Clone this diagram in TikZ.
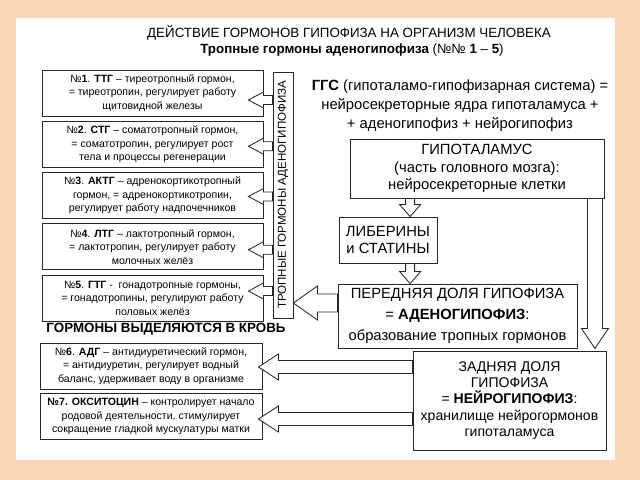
\documentclass[tikz,border=0pt]{standalone}
\usepackage{fontspec}
\setmainfont{Liberation Sans}
\usepackage{graphicx}
\usetikzlibrary{calc,positioning}
\definecolor{peach}{RGB}{250,213,182}

% hollow block arrow: tail, tip, shaft half width, head half width, head length
\newcommand{\blockarrow}[5]{%
  \coordinate (ba-base) at ($(#2)!#5!(#1)$);
  \draw[hollow] ($(#1)!#3!90:(#2)$) -- ($(ba-base)!#3!90:(#2)$) -- ($(ba-base)!#4!90:(#2)$) -- (#2)
    -- ($(ba-base)!#4!-90:(#2)$) -- ($(ba-base)!#3!-90:(#2)$) -- ($(#1)!#3!-90:(#2)$) -- cycle;
}

\begin{document}
\begin{tikzpicture}[
    x=0.025cm, y=-0.025cm,
    hbox/.style={rectangle, draw=black!85, line width=0.6pt, fill=white, align=center, inner sep=0pt, minimum width=5.525cm, minimum height=1.15cm, font=\fontsize{7.5}{9.6}\selectfont},
    organ/.style={rectangle, draw=black!85, line width=0.6pt, fill=white, align=center, inner sep=0pt, font=\fontsize{10.5}{12.5}\selectfont},
    hollow/.style={draw=black!85, line width=0.6pt, fill=white, line join=miter}
  ]
  \useasboundingbox (0,0) rectangle (640,480);
  \fill[peach] (0,0) rectangle (640,480);
  \fill[white] (16,18) rectangle (615,460);

  \node[font=\fontsize{9.5}{11}\selectfont] (title) at (349,33) {ДЕЙСТВИЕ ГОРМОНОВ ГИПОФИЗА НА ОРГАНИЗМ ЧЕЛОВЕКА};
  \node[font=\fontsize{9.5}{11}\selectfont] (subtitle) at (352,50) {\textbf{Тропные гормоны аденогипофиза} (№№ \textbf{1} – \textbf{5})};

  % tropic hormones
  \node[hbox] (b1) at (152.5,93) {№\textbf{1}. \textbf{ТТГ} – тиреотропный гормон,\\= тиреотропин, регулирует работу\\щитовидной железы};
  \node[hbox, below=0.11cm of b1] (b2) {№\textbf{2}. \textbf{СТГ} – соматотропный гормон,\\= соматотропин, регулирует рост\\тела и процессы регенерации};
  \node[hbox, below=0.11cm of b2] (b3) {№\textbf{3}. \textbf{АКТГ} – адренокортикотропный\\гормон, = адренокортикотропин,\\регулирует работу надпочечников};
  \node[hbox, below=0.11cm of b3] (b4) {№\textbf{4}. \textbf{ЛТГ} – лактотропный гормон,\\= лактотропин, регулирует работу\\молочных желёз};
  \node[hbox, below=0.11cm of b4] (b5) {№\textbf{5}. \textbf{ГТГ} -\ \ гонадотропные гормоны,\\= гонадотропины, регулируют работу\\половых желёз};
  \node[draw=black!85, line width=0.6pt, fill=white, inner sep=0pt, minimum width=0.5cm, minimum height=6.15cm, font=\fontsize{8.2}{9}\selectfont] (bar) at (283,195) {\rotatebox{90}{ТРОПНЫЕ ГОРМОНЫ АДЕНОГИПОФИЗА}};

  \node[font=\bfseries\fontsize{9.5}{11}\selectfont] (blood) at (166,329) {ГОРМОНЫ ВЫДЕЛЯЮТСЯ В КРОВЬ};
  \node[hbox, minimum width=5.55cm] (b6) at (151,366) {№\textbf{6}. \textbf{АДГ} – антидиуретический гормон,\\= антидиуретин, регулирует водный\\баланс, удерживает воду в организме};
  \node[hbox, minimum width=5.55cm, below=0.1cm of b6] (b7) {\textbf{№7. ОКСИТОЦИН} – контролирует начало\\родовой деятельности, стимулирует\\сокращение гладкой мускулатуры матки};

  % hypothalamo-pituitary system
  \node[align=center, font=\fontsize{10.5}{13.5}\selectfont] (ggs) at (460,106) {\textbf{ГГС} (гипоталамо-гипофизарная система) =\\нейросекреторные ядра гипоталамуса +\\+ аденогипофиз + нейрогипофиз};
  \node[organ, minimum width=6.35cm, minimum height=1.475cm] (hyp) at (477,168.5) {ГИПОТАЛАМУС\\(часть головного мозга):\\нейросекреторные клетки};
  \node[organ, minimum width=2.45cm, minimum height=1.15cm] (lib) at (388,240) {ЛИБЕРИНЫ\\и СТАТИНЫ};
  \node[organ, minimum width=5.975cm, minimum height=1.6cm, font=\fontsize{10.5}{15}\selectfont] (adeno) at (457.5,316) {ПЕРЕДНЯЯ ДОЛЯ ГИПОФИЗА\\= \textbf{АДЕНОГИПОФИЗ}:\\образование тропных гормонов};
  \node[organ, minimum width=4.825cm, minimum height=2.475cm, font=\fontsize{10}{11.5}\selectfont] (neuro) at (509.5,400.5) {ЗАДНЯЯ ДОЛЯ\\ГИПОФИЗА\\= \textbf{НЕЙРОГИПОФИЗ}:\\хранилище нейрогормонов\\гипоталамуса};

  % block arrows
  \coordinate (h2l-tip) at ($(lib.north west)!0.724!(lib.north east)$);
  \coordinate (h2l-tail) at (h2l-tip |- hyp.south);
  \blockarrow{h2l-tail}{h2l-tip}{0.1125cm}{0.2625cm}{0.3cm}
  \coordinate (l2a-tail) at ($(lib.south west)!0.724!(lib.south east)$);
  \coordinate (l2a-tip) at (l2a-tail |- adeno.north);
  \blockarrow{l2a-tail}{l2a-tip}{0.1125cm}{0.2625cm}{0.3cm}
  \coordinate (h2n-tail) at ($(hyp.south east)+(-9.5,0)$);
  \coordinate (h2n-tip) at (h2n-tail |- adeno.south);
  \blockarrow{h2n-tail}{h2n-tip}{0.1875cm}{0.3375cm}{0.5cm}
  \coordinate (a2b-tail) at ($(adeno.west)+(0,-13)$);
  \coordinate (a2b-tip) at (bar.east |- a2b-tail);
  \blockarrow{a2b-tail}{a2b-tip}{0.225cm}{0.425cm}{0.6cm}
  \foreach \b/\dy in {b1/7, b2/2, b3/1, b4/3, b5/-7} {
    \coordinate (\b-tail) at ($(bar.west |- \b.east)+(0,\dy)$);
    \coordinate (\b-tip) at ($(\b.east)+(-15,\dy)$);
    \blockarrow{\b-tail}{\b-tip}{0.1125cm}{0.2cm}{0.375cm}
  }
  \coordinate (n6-tail) at ($(neuro.west)+(0,-33.5)$);
  \coordinate (n6-tip) at ($(b6.east |- n6-tail)+(-4,0)$);
  \blockarrow{n6-tail}{n6-tip}{0.1625cm}{0.325cm}{0.5cm}
  \coordinate (n7-tail) at ($(neuro.west)+(0,18.5)$);
  \coordinate (n7-tip) at ($(b7.east |- n7-tail)+(-4,0)$);
  \blockarrow{n7-tail}{n7-tip}{0.1625cm}{0.325cm}{0.5cm}
\end{tikzpicture}
\end{document}
